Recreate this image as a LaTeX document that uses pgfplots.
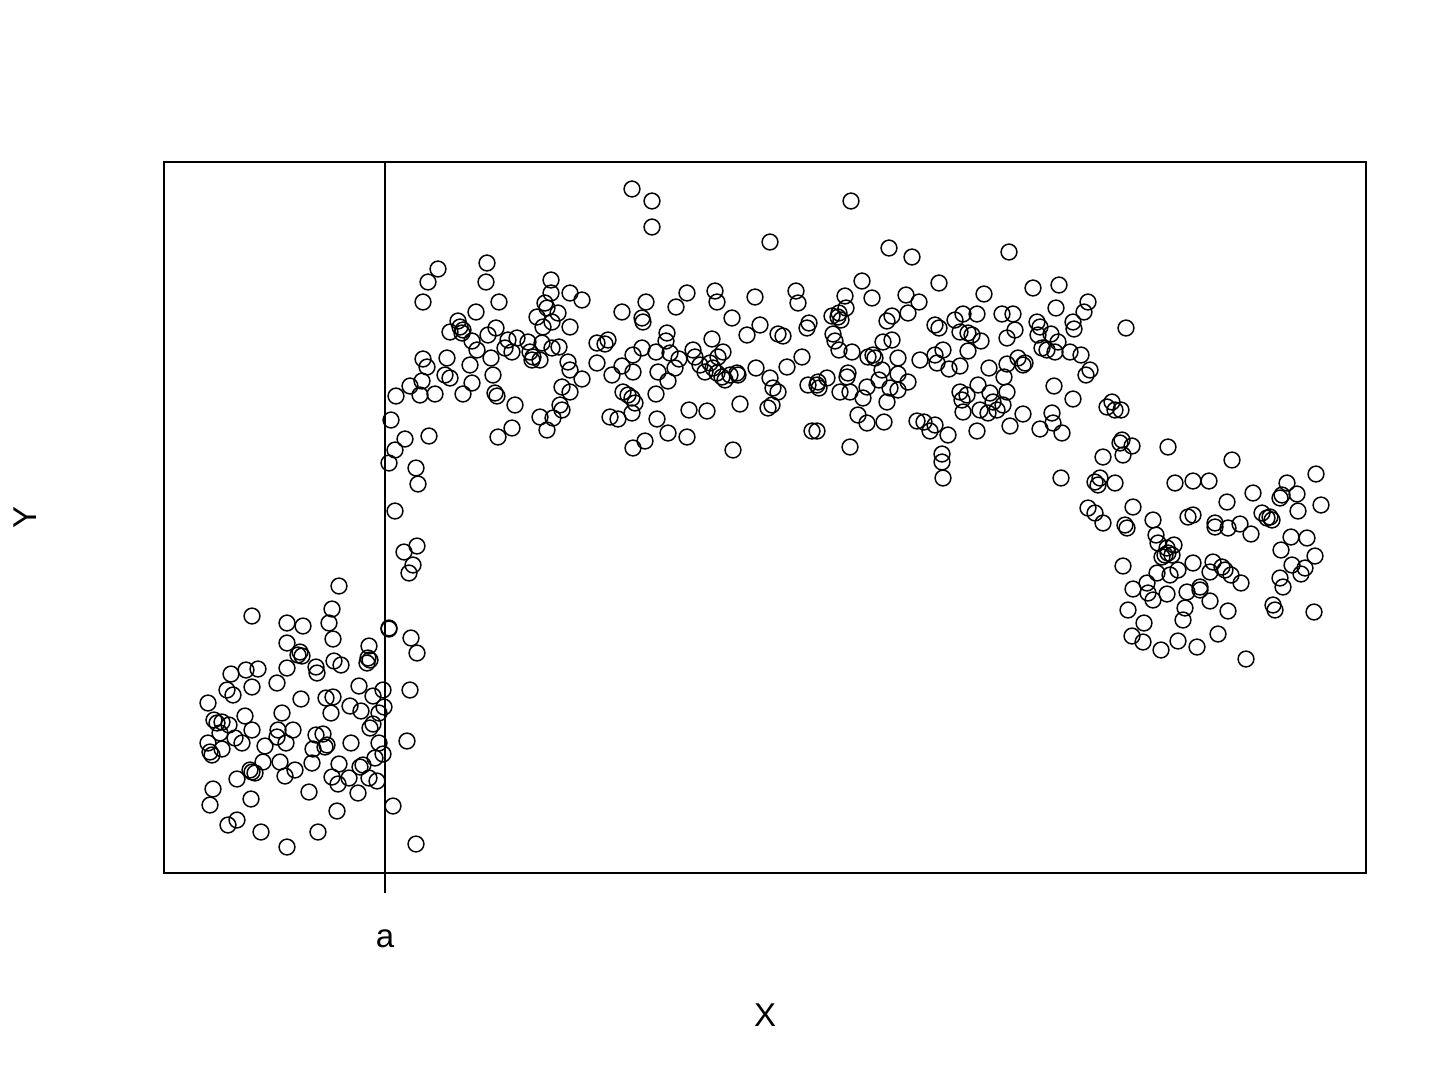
\documentclass[border=0pt]{standalone}
\usepackage{pgfplots}
\pgfplotsset{compat=1.18}
\usepackage{fontspec}
\setmainfont{Liberation Sans}

% values are read in pixels of the reference (y grows downwards)
\begin{document}
\begin{tikzpicture}
\path[use as bounding box] (-82pt,-102.5pt) rectangle (643pt,436.5pt);
\begin{axis}[
    at={(0,0)}, anchor=south west,
    scale only axis,
    width=601pt, height=355.5pt,
    xmin=164, xmax=1366,
    ymin=162, ymax=873,
    y dir=reverse,
    axis line style={black, line width=0.65pt},
    xtick={385}, xticklabels={a},
    xtick pos=bottom,
    ytick=\empty,
    tick align=outside,
    major tick length=10pt,
    tick style={black, line width=0.65pt},
    xticklabel shift=15pt,
    font=\fontsize{16.5}{20}\selectfont,
    xlabel={X}, ylabel={Y},
    xlabel style={at={(axis description cs:0.5,0)}, anchor=center, yshift=-71pt},
    ylabel style={at={(axis description cs:0,0.5)}, anchor=center, yshift=69.5pt},
    clip=false,
]
\addplot[black, line width=0.65pt] coordinates {(385,162) (385,873)};
\addplot[only marks, mark=o, mark size=3.95pt, black, mark options={line width=0.75pt}] coordinates {
(339,586)(252,616)(287,623)(303,626)(332,609)(329,623)(333,639)(389,629)(287,643)(300,652)
(302,656)(298,655)(369,646)(368,658)(367,663)(370,660)(334,661)(341,665)(316,667)(317,673)
(287,668)(258,669)(246,670)(231,674)(252,687)(277,683)(227,690)(233,695)(208,703)(301,699)
(326,698)(333,697)(359,686)(373,696)(383,690)(350,706)(361,711)(331,713)(384,707)(379,713)
(282,713)(245,716)(214,720)(217,723)(222,722)(229,725)(220,733)(252,730)(373,724)(370,728)
(278,730)(293,730)(316,735)(323,734)(277,737)(286,743)(235,738)(242,743)(208,743)(210,752)
(212,755)(222,749)(265,746)(313,749)(325,747)(327,745)(351,743)(379,743)(407,741)(383,754)
(375,758)(263,762)(280,762)(252,772)(255,773)(250,770)(312,763)(339,764)(363,765)(360,767)
(237,779)(285,776)(295,770)(332,777)(338,784)(349,778)(369,778)(377,781)(358,793)(309,792)
(213,789)(210,805)(251,799)(393,806)(337,811)(237,820)(228,825)(261,832)(318,832)(287,847)
(416,844)(411,638)(417,653)(410,690)
(438,269)(428,282)(423,302)(487,263)(486,282)(499,302)(476,312)(458,321)(460,327)(463,330)
(462,333)(450,332)(472,341)(477,350)(488,335)(496,328)(423,359)(427,367)(447,358)(445,375)
(450,378)(470,365)(491,358)(493,375)(472,383)(422,381)(410,386)(420,395)(435,394)(463,394)
(495,393)(497,396)(391,420)(405,439)(395,450)(429,436)(498,437)(389,463)(416,468)(418,484)
(395,511)(417,546)(404,552)(413,565)(409,573)(389,628)(396,396)
(551,280)(551,293)(570,293)(582,300)(545,303)(547,308)(558,313)(537,317)(552,322)(543,327)
(570,327)(517,338)(508,340)(505,348)(512,352)(528,342)(542,343)(552,348)(559,347)(530,352)
(533,357)(532,360)(540,360)(597,343)(597,363)(568,362)(570,370)(582,379)(562,387)(570,392)
(560,405)(562,410)(515,405)(540,417)(553,418)(547,430)(512,428)
(632,189)(652,201)(652,227)(770,242)(687,293)(715,291)(717,302)(755,297)(646,302)(622,312)
(676,307)(732,318)(642,318)(643,322)(760,325)(747,335)(778,334)(783,336)(667,333)(666,341)
(712,339)(605,344)(608,340)(642,348)(633,355)(656,352)(670,353)(693,350)(695,357)(723,352)
(718,357)(679,359)(675,368)(622,366)(700,365)(705,372)(710,363)(713,368)(717,373)(722,377)
(725,380)(730,375)(737,373)(738,375)(756,368)(787,367)(612,375)(633,372)(658,372)(668,381)
(623,392)(628,395)(632,398)(635,403)(656,394)(770,378)(773,388)(778,392)(772,405)(768,408)
(740,404)(689,410)(707,411)(610,417)(618,419)(632,413)(657,419)(668,433)(687,437)(645,441)
(633,448)(733,450)
(851,201)(889,248)(912,257)(862,281)(939,283)(796,291)(798,303)(845,296)(846,308)(872,298)
(906,295)(919,302)(908,313)(832,316)(838,317)(841,320)(839,313)(887,321)(892,316)(809,323)
(807,328)(833,334)(835,341)(839,350)(883,342)(892,340)(852,352)(935,325)(939,328)(955,320)
(802,357)(868,357)(873,355)(875,358)(898,358)(920,360)(935,355)(943,350)(937,363)(949,369)
(882,370)(879,380)(898,374)(908,382)(848,373)(847,377)(827,378)(818,382)(817,385)(819,388)
(808,385)(840,392)(850,392)(867,387)(863,398)(890,388)(898,390)(887,402)(858,415)(867,423)
(884,422)(917,421)(924,422)(930,431)(935,425)(948,435)(812,431)(817,431)(850,447)(942,454)
(942,462)(943,478)(972,335)
(1009,252)(984,294)(1033,288)(1059,285)(1056,308)(1088,302)(1084,312)(1073,322)(1074,329)(1126,328)
(963,314)(977,314)(1002,314)(1013,314)(1015,330)(1007,338)(1037,322)(1040,327)(1038,335)(1051,334)
(1058,342)(960,332)(968,333)(981,341)(968,351)(1042,348)(1047,350)(1055,352)(1070,352)(1081,355)
(960,366)(989,368)(1007,364)(1018,358)(1023,365)(1025,363)(1004,377)(1090,370)(1086,375)(1054,386)
(978,385)(990,393)(1007,392)(960,392)(967,395)(962,400)(1073,399)(993,402)(1003,405)(997,410)
(988,413)(980,410)(963,412)(1023,414)(1052,413)(1053,423)(1062,433)(1040,429)(1010,426)(977,431)
(1107,407)(1112,402)(1115,410)(1121,410)(1122,440)(1132,446)(1123,455)(1120,443)(1103,457)(1061,478)
(1095,482)(1100,478)(1098,485)(1115,483)(1088,508)(1095,513)(1103,523)(1133,507)(1125,525)(1127,528)
(1168,447)(1232,460)(1316,474)(1175,483)(1193,481)(1209,481)(1287,483)(1253,493)(1280,498)(1282,495)
(1297,494)(1321,505)(1227,502)(1298,511)(1153,520)(1188,517)(1193,515)(1262,513)(1267,518)(1272,520)
(1270,517)(1215,523)(1215,527)(1228,528)(1240,524)(1251,534)(1156,535)(1291,537)(1307,538)(1158,543)
(1167,548)(1174,545)(1168,553)(1165,555)(1162,557)(1172,555)(1281,550)(1315,556)(1123,566)(1193,563)
(1213,562)(1222,567)(1225,570)(1210,572)(1231,575)(1241,583)(1292,565)(1305,568)(1301,574)(1170,575)
(1178,570)(1157,573)(1280,578)(1283,587)(1147,583)(1148,593)(1153,600)(1133,589)(1167,594)(1187,592)
(1200,587)(1200,590)(1210,601)(1273,605)(1275,610)(1314,612)(1128,610)(1185,608)(1183,620)(1228,611)
(1144,623)(1132,636)(1143,642)(1178,641)(1161,650)(1197,647)(1218,634)(1246,659)
};
\end{axis}
\end{tikzpicture}
\end{document}
